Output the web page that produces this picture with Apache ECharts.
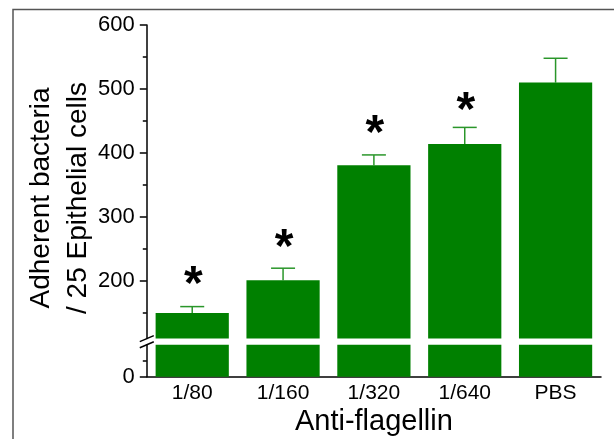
<!DOCTYPE html>
<html><head><meta charset="utf-8">
<script src="https://cdn.jsdelivr.net/npm/echarts@6/dist/echarts.min.js"></script>
<style>html,body{margin:0;padding:0;background:#fff;overflow:hidden}#c{width:614px;height:439px}</style>
</head><body><div id="c"></div>
<script>
var categories = ['1/80', '1/160', '1/320', '1/640', 'PBS'];
var means = [150, 201, 381, 414, 510];
var errorTops = [160, 220, 397, 440, 548];
var stars = [209, 268, 446, 481, null];
var upperTicks = [200, 300, 400, 500, 600];
var upperMinor = [150, 250, 350, 450, 550];
var lowerTicks = [0];
var lowerMinor = [25];

var FONT = 'Liberation Sans, Arial, Helvetica, sans-serif';
var GREEN = '#008000';
var ERR = '#2a962a';
var L = 146.8, R = 13;
var chart = echarts.init(document.getElementById('c'));

function yAx(grid, min, max, vals, len, line, labels) {
  return {
    type: 'value', gridIndex: grid, min: min, max: max, position: 'left', offset: 0,
    splitLine: {show: false},
    axisLine: {show: line, onZero: false, lineStyle: {color: '#000', width: 1.5}},
    axisTick: {show: true, customValues: vals, length: len, lineStyle: {color: '#000', width: 1.5}},
    axisLabel: {show: labels, customValues: labels ? vals : undefined, color: '#000', fontSize: 22, fontFamily: FONT, margin: 12}
  };
}

chart.setOption({
  animation: false,
  grid: [
    {left: L, right: R, top: 25, height: 313.6},
    {left: L, right: R, top: 344.7, height: 32}
  ],
  xAxis: [
    {type: 'category', gridIndex: 0, data: categories, show: false},
    {type: 'category', gridIndex: 1, data: categories,
     axisLine: {lineStyle: {color: '#000', width: 1.5}},
     axisTick: {length: 4, interval: 0, lineStyle: {color: '#000', width: 1.5}},
     axisLabel: {color: '#000', fontSize: 21, fontFamily: FONT, margin: 6, interval: 0},
     name: 'Anti-flagellin', nameLocation: 'middle', nameGap: 31,
     nameTextStyle: {color: '#000', fontSize: 29, fontFamily: FONT}},
    {type: 'category', gridIndex: 1, data: categories,
     axisLine: {show: false}, axisLabel: {show: false},
     axisTick: {length: 6, alignWithLabel: true, interval: 0, lineStyle: {color: '#000', width: 1.5}}}
  ],
  yAxis: [
    yAx(0, 110, 600, upperTicks, 7, true, true),
    yAx(0, 110, 600, upperMinor, 4, false, false),
    yAx(1, 0, 50, lowerTicks, 7, true, true),
    yAx(1, 0, 50, lowerMinor, 4, false, false)
  ],
  series: [
    {type: 'bar', xAxisIndex: 0, yAxisIndex: 0, data: means, barWidth: '80.6%', clip: true,
     itemStyle: {color: GREEN}},
    {type: 'bar', xAxisIndex: 1, yAxisIndex: 2, data: means, barWidth: '80.6%', clip: true,
     itemStyle: {color: GREEN}},
    {type: 'custom', xAxisIndex: 0, yAxisIndex: 0, clip: false,
     data: categories.map(function (c, i) { return [i, means[i], errorTops[i]]; }),
     renderItem: function (params, api) {
       var i = api.value(0);
       var b = api.coord([i, api.value(1)]);
       var t = api.coord([i, api.value(2)]);
       var hw = 12;
       return {type: 'group', children: [
         {type: 'line', shape: {x1: b[0], y1: b[1], x2: t[0], y2: t[1]}, style: {stroke: ERR, lineWidth: 1.5}},
         {type: 'line', shape: {x1: t[0] - hw, y1: t[1], x2: t[0] + hw, y2: t[1]}, style: {stroke: ERR, lineWidth: 1.5}}
       ]};
     }},
    {type: 'custom', xAxisIndex: 0, yAxisIndex: 0, clip: false,
     data: categories.map(function (c, i) { return [i, stars[i]]; }).filter(function (d) { return d[1] != null; }),
     renderItem: function (params, api) {
       var p = api.coord([api.value(0), api.value(1)]);
       return {type: 'text', x: p[0] + 1, y: p[1] + 11,
         style: {text: '*', font: 'bold 48px ' + FONT, fill: '#000', align: 'center', verticalAlign: 'middle'}};
     }}
  ],
  graphic: [
    {type: 'polyline', shape: {points: [[13, 439], [13, 9.5], [614, 9.5]]}, style: {fill: 'none', stroke: '#555', lineWidth: 1.5}, silent: true},
    {type: 'text', x: 60, y: 198, rotation: Math.PI / 2,
     style: {text: 'Adherent bacteria\n/ 25 Epithelial cells', font: '28px ' + FONT, fill: '#000', align: 'center', verticalAlign: 'middle', lineHeight: 37}},
    {type: 'line', shape: {x1: L - 7, y1: 341.6, x2: L + 7, y2: 335.6}, style: {stroke: '#000', lineWidth: 1.5}},
    {type: 'line', shape: {x1: L - 7, y1: 347.7, x2: L + 7, y2: 341.7}, style: {stroke: '#000', lineWidth: 1.5}}
  ]
});
</script></body></html>
